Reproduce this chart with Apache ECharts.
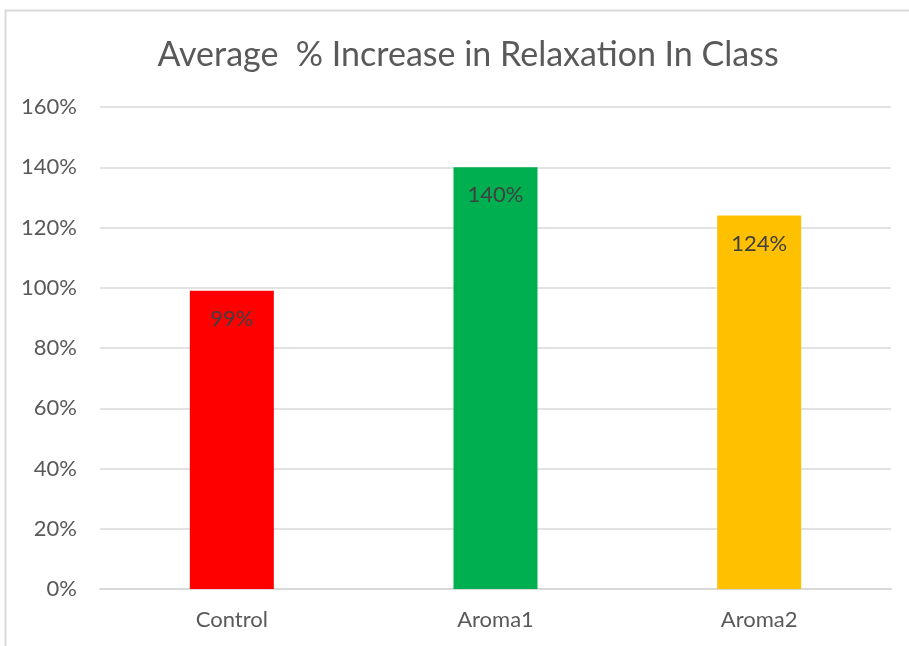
<!DOCTYPE html>
<html>
<head>
<meta charset="utf-8">
<script src="https://cdn.jsdelivr.net/npm/echarts@6/dist/echarts.min.js"></script>
<style>
  html, body { margin: 0; padding: 0; background: #fff; }
  #chart { width: 909px; height: 646px; }
</style>
</head>
<body>
<div id="chart"></div>
<script>
const categories = ['Control', 'Aroma1', 'Aroma2']
const values = [99, 140, 124]
const barColors = ['#ff0000', '#00b050', '#ffc000']
const yTicks = { min: 0, max: 160, interval: 20 }

const chart = echarts.init(document.getElementById('chart'))
chart.setOption({
  animation: false,
  textStyle: { fontFamily: 'Lato' },
  title: {
    text: 'Average  % Increase in Relaxation In Class',
    left: 463,
    top: 33,
    textAlign: 'center',
    textStyle: { fontFamily: 'Lato', fontSize: 34, fontWeight: 'normal', color: '#595959' }
  },
  graphic: [
    {
      // chart frame, runs off the right and bottom edges
      type: 'rect',
      shape: { x: 5.5, y: 10.5, width: 920, height: 660 },
      style: { fill: null, stroke: '#d9d9d9', lineWidth: 2 },
      silent: true
    }
  ],
  grid: { left: 100, right: 18, top: 107, bottom: 57 },
  xAxis: {
    type: 'category',
    data: categories,
    axisTick: { show: false },
    axisLine: { lineStyle: { color: '#d9d9d9', width: 2 } },
    axisLabel: { color: '#595959', fontSize: 22, margin: 20 }
  },
  yAxis: {
    type: 'value',
    min: yTicks.min,
    max: yTicks.max,
    interval: yTicks.interval,
    axisLine: { show: false },
    axisTick: { show: false },
    splitLine: { lineStyle: { color: '#d9d9d9', width: 1.5 } },
    axisLabel: { color: '#595959', fontSize: 22, margin: 23, formatter: '{value}%' }
  },
  series: [
    {
      type: 'bar',
      data: values.map((v, i) => ({ value: v, itemStyle: { color: barColors[i] } })),
      barWidth: 84,
      label: {
        show: true,
        position: 'insideTop',
        distance: 17,
        formatter: '{c}%',
        color: '#404040',
        fontSize: 22
      }
    }
  ]
})
</script>
</body>
</html>
